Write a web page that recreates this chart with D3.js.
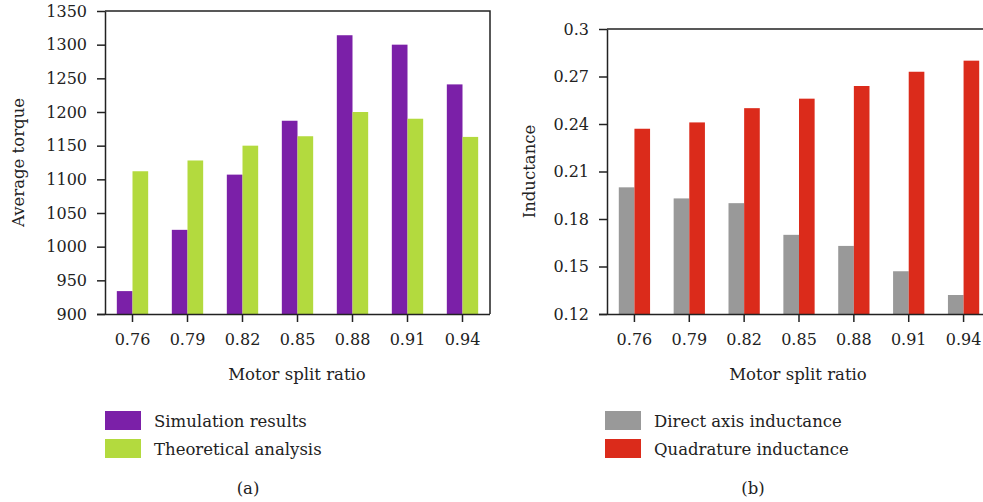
<!DOCTYPE html>
<html>
<head>
<meta charset="utf-8">
<script src="https://cdn.jsdelivr.net/npm/d3@7"></script>
<style>
  html, body { margin: 0; padding: 0; background: #fff; }
  svg { display: block; }
  text { font-family: "DejaVu Serif", "Liberation Serif", serif; fill: #222; }
  .axis path, .axis line { stroke: #222; stroke-width: 1.5; }
</style>
</head>
<body>
<svg id="chart" width="983" height="502"></svg>
<script>
// Split ratios shared by both panels
const categories = ["0.76", "0.79", "0.82", "0.85", "0.88", "0.91", "0.94"];

// Panel (a): average torque
const simulationResults = [934, 1025, 1107, 1187, 1314, 1300, 1241];
const theoreticalAnalysis = [1112, 1128, 1150, 1164, 1200, 1190, 1163];
const torqueTicks = [900, 950, 1000, 1050, 1100, 1150, 1200, 1250, 1300, 1350];

// Panel (b): inductance
const directAxis = [0.200, 0.193, 0.190, 0.170, 0.163, 0.147, 0.132];
const quadrature = [0.237, 0.241, 0.250, 0.256, 0.264, 0.273, 0.280];
const inductanceTicks = [0.12, 0.15, 0.18, 0.21, 0.24, 0.27, 0.3];

const FONT = "DejaVu Serif, Liberation Serif, serif";
const TICK_FS = "16px";
const FS = "16.5px";

const svg = d3.select("#chart");

function panel(cfg) {
  const g = svg.append("g");
  const x = d3.scaleBand().domain(categories).range([cfg.left, cfg.right]);
  const y = d3.scaleLinear().domain(cfg.domain).range([cfg.bottom, cfg.top]);
  const barW = x.bandwidth() * 0.285;

  // frame (top and right sides)
  g.append("path")
    .attr("d", `M${cfg.left},${cfg.top}H${cfg.right}V${cfg.bottom}`)
    .attr("fill", "none").attr("stroke", "#222").attr("stroke-width", 1.5);

  // bars
  cfg.series.forEach((s, si) => {
    g.append("g").selectAll("rect").data(s.values).join("rect")
      .attr("x", (d, i) => x(categories[i]) + x.bandwidth() / 2 + (si - 1) * barW)
      .attr("width", barW)
      .attr("y", d => y(d))
      .attr("height", d => y(cfg.domain[0]) - y(d))
      .attr("fill", s.color);
  });

  // y axis
  const ya = g.append("g").attr("class", "axis")
    .attr("transform", `translate(${cfg.left},0)`)
    .call(d3.axisLeft(y).tickValues(cfg.ticks).tickSize(8).tickPadding(10)
      .tickFormat(cfg.fmt).tickSizeOuter(0));
  ya.attr("font-family", FONT).attr("font-size", TICK_FS);
  ya.selectAll("text").attr("fill", "#222");

  // x axis
  const xa = g.append("g").attr("class", "axis")
    .attr("transform", `translate(0,${cfg.bottom})`)
    .call(d3.axisBottom(x).tickSize(8).tickPadding(12).tickSizeOuter(0));
  xa.attr("font-family", FONT).attr("font-size", TICK_FS);
  xa.select(".domain").attr("d", `M${cfg.left - 8},0.5H${cfg.right}`);
  xa.selectAll("text").attr("fill", "#222");

  // axis titles
  g.append("text")
    .attr("transform", `translate(${cfg.yTitleX},${(cfg.top + cfg.bottom) / 2}) rotate(-90)`)
    .attr("text-anchor", "middle").style("font-size", FS)
    .text(cfg.yTitle);
  g.append("text")
    .attr("x", cfg.xTitleX).attr("y", 380)
    .attr("text-anchor", "middle").style("font-size", FS)
    .text("Motor split ratio");

  // legend
  cfg.series.forEach((s, si) => {
    const ly = 411 + si * 28;
    g.append("rect").attr("x", cfg.legendX).attr("y", ly)
      .attr("width", 36).attr("height", 19).attr("fill", s.color);
    g.append("text").attr("x", cfg.legendX + 49).attr("y", ly + 16)
      .style("font-size", FS).text(s.name);
  });

  // panel label
  g.append("text").attr("x", cfg.labelX).attr("y", 494)
    .attr("text-anchor", "middle").style("font-size", FS)
    .text(cfg.label);
}

panel({
  left: 105, right: 490, top: 11, bottom: 314,
  domain: [900, 1350], ticks: torqueTicks, fmt: d3.format("d"),
  yTitle: "Average torque", yTitleX: 24, xTitleX: 297,
  series: [
    { name: "Simulation results", values: simulationResults, color: "#7b20a8" },
    { name: "Theoretical analysis", values: theoreticalAnalysis, color: "#b3da3e" }
  ],
  legendX: 105, labelX: 248, label: "(a)"
});

panel({
  left: 607, right: 991, top: 29, bottom: 314,
  domain: [0.12, 0.3], ticks: inductanceTicks, fmt: d => String(+d.toFixed(2)),
  yTitle: "Inductance", yTitleX: 535, xTitleX: 798,
  series: [
    { name: "Direct axis inductance", values: directAxis, color: "#999999" },
    { name: "Quadrature inductance", values: quadrature, color: "#db2b1b" }
  ],
  legendX: 605, labelX: 753, label: "(b)"
});
</script>
</body>
</html>
